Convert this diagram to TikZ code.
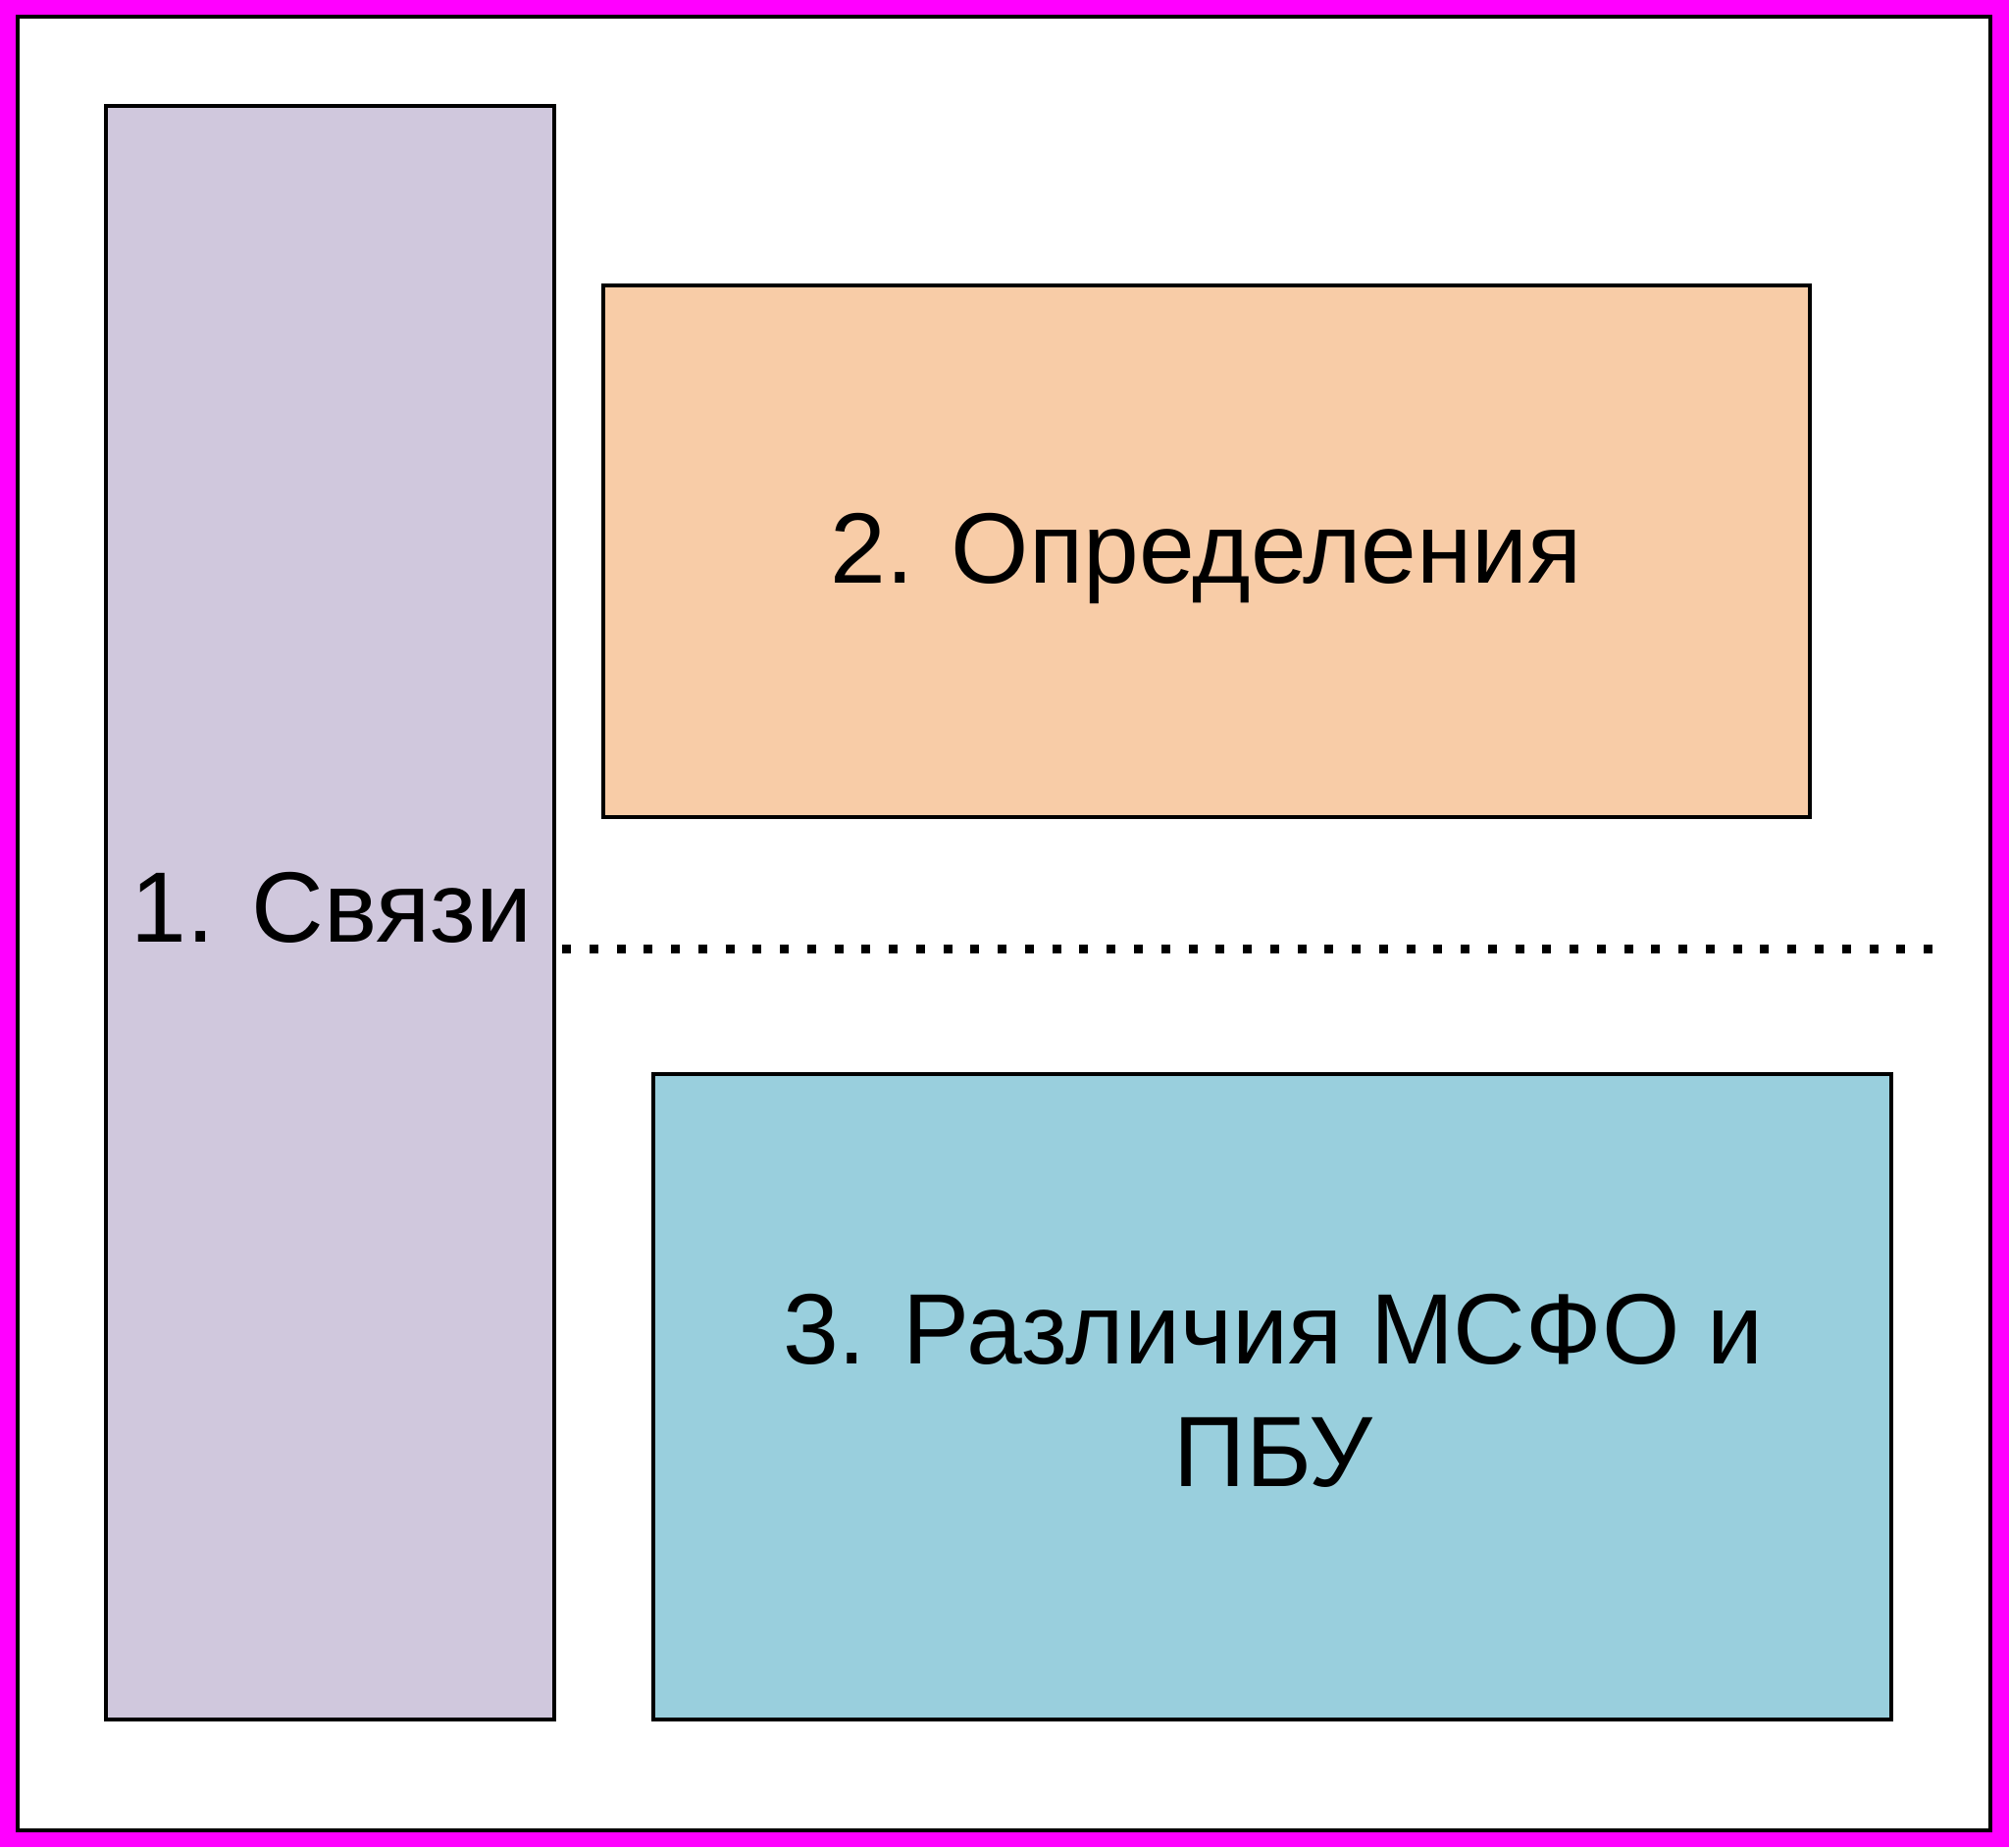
\documentclass[tikz,border=0pt]{standalone}
\usepackage{fontspec}
\setmainfont{Liberation Sans}
\definecolor{magframe}{RGB}{255,0,255}
\definecolor{lilacfill}{RGB}{208,200,221}
\definecolor{peachfill}{RGB}{248,204,167}
\definecolor{skyfill}{RGB}{153,207,221}
\begin{document}
\begin{tikzpicture}[x=0.5pt,y=-0.5pt,
  boxshape/.style={draw=black,line width=2.2pt,rectangle,inner sep=0pt,outer sep=0pt},
  boxtext/.style={font=\fontsize{51pt}{62.5pt}\selectfont,text=black,inner sep=0pt,align=center},
  dotline/.style={line width=4.5pt,dash pattern=on 4.5pt off 9.38pt}]
\useasboundingbox (0,0) rectangle (2048,1883);
\fill[magframe] (0,0) rectangle (2048,1883);
\draw[line width=2pt,fill=white] (17.5,17.5) rectangle (2029,1866);
% boxes
\node[boxshape,fill=lilacfill,minimum width=457pt*0.5,minimum height=1645pt*0.5] (b1) at (336.5,930.5) {};
\node[boxshape,fill=peachfill,minimum width=1230pt*0.5,minimum height=542pt*0.5] (b2) at (1230,562) {};
\node[boxshape,fill=skyfill,minimum width=1262pt*0.5,minimum height=658pt*0.5] (b3) at (1297,1424) {};
% texts
\node[boxtext,anchor=base] (t1) at (338,960) {1. Связи};
\node[boxtext,anchor=base] (t2) at (1230,594) {2. Определения};
\node[boxtext,anchor=center] (t3) at (1298,1418) {3. Различия МСФО и\\ПБУ};
% dotted separator
\coordinate (dS) at (573,967.5);
\coordinate (dE) at (1970,967.5);
\draw[dotline] (dS) -- (dE);
\end{tikzpicture}
\end{document}
